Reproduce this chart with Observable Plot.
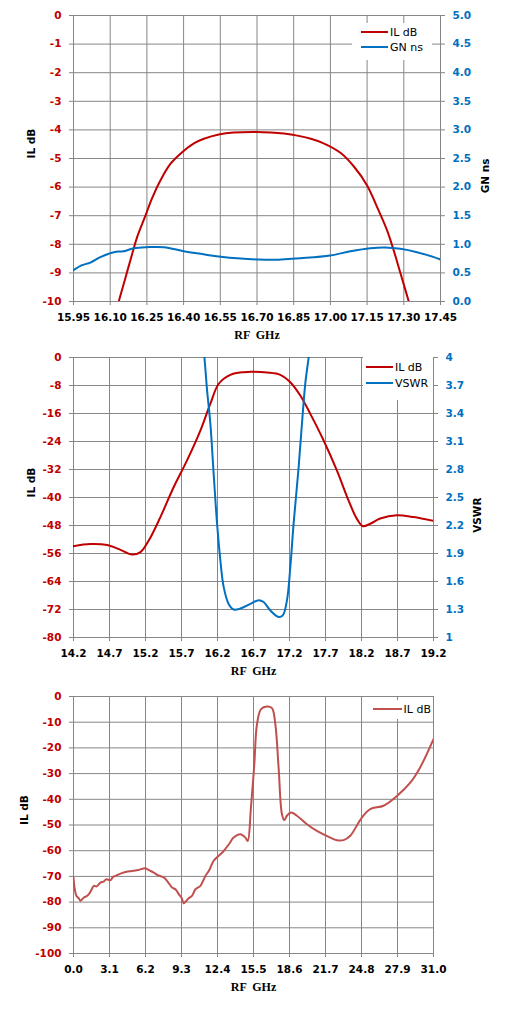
<!DOCTYPE html>
<html><head><meta charset="utf-8">
<script src="https://cdn.jsdelivr.net/npm/d3@7"></script>
<script src="https://cdn.jsdelivr.net/npm/@observablehq/plot@0.6"></script>
<style>
body{margin:0;background:#fff;}
.wrap{position:relative;width:509px;}
.wrap svg{display:block;}
.leg{position:absolute;background:#fff;font-family:"DejaVu Sans",sans-serif;font-size:11px;color:#000;}
.row{display:flex;align-items:center;white-space:nowrap;}
.sw{display:inline-block;height:2.5px;margin-right:2px;}
</style>
</head><body><div id="c"></div>
<script>
// ---------- Chart 1 data ----------
const c1XTicks = [15.95, 16.10, 16.25, 16.40, 16.55, 16.70, 16.85, 17.00, 17.15, 17.30, 17.45];
const c1YTicks = [0, -1, -2, -3, -4, -5, -6, -7, -8, -9, -10];
const c1ILFreq = [16.12, 16.135, 16.163, 16.19, 16.21, 16.244, 16.27, 16.305, 16.346, 16.394, 16.442, 16.483, 16.544, 16.605, 16.701, 16.755, 16.81, 16.865, 16.92, 16.97, 17.041, 17.096, 17.15, 17.191, 17.232, 17.259, 17.287, 17.321, 17.335];
const c1IL = [-10.5, -10.0, -9.15, -8.33, -7.75, -7.0, -6.41, -5.77, -5.19, -4.78, -4.47, -4.31, -4.16, -4.09, -4.07, -4.09, -4.13, -4.20, -4.31, -4.46, -4.80, -5.28, -5.94, -6.70, -7.52, -8.22, -9.03, -10.02, -10.45];
const c1GNFreq = [15.95, 15.985, 16.019, 16.06, 16.115, 16.156, 16.197, 16.251, 16.319, 16.401, 16.469, 16.544, 16.633, 16.701, 16.769, 16.878, 17.0, 17.082, 17.164, 17.225, 17.286, 17.354, 17.423, 17.45];
const c1GN = [0.548, 0.635, 0.68, 0.775, 0.862, 0.88, 0.932, 0.95, 0.95, 0.88, 0.834, 0.787, 0.75, 0.735, 0.73, 0.757, 0.804, 0.879, 0.932, 0.944, 0.921, 0.862, 0.775, 0.734];

// ---------- Chart 2 data ----------
const c2XTicks = [14.2, 14.7, 15.2, 15.7, 16.2, 16.7, 17.2, 17.7, 18.2, 18.7, 19.2];
const c2YTicks = [0, -8, -16, -24, -32, -40, -48, -56, -64, -72, -80];
const c2ILFreq = [14.2, 14.436, 14.667, 14.852, 15.014, 15.13, 15.245, 15.407, 15.592, 15.777, 15.962, 16.101, 16.217, 16.379, 16.564, 16.702, 16.887, 17.072, 17.211, 17.35, 17.489, 17.674, 17.859, 18.021, 18.136, 18.219, 18.321, 18.46, 18.691, 18.923, 19.2];
const c2IL = [-53.9, -53.3, -53.6, -54.95, -56.3, -55.6, -52.3, -45.6, -37.0, -29.4, -20.9, -13.2, -7.5, -4.95, -4.19, -4.1, -4.3, -4.95, -7.05, -10.86, -16.1, -23.7, -32.3, -40.9, -46.1, -48.2, -47.5, -46.0, -45.05, -45.6, -46.7];
const c2VSWRFreq = [16.0, 16.018, 16.055, 16.101, 16.147, 16.194, 16.24, 16.286, 16.355, 16.425, 16.517, 16.656, 16.772, 16.841, 16.934, 17.049, 17.109, 17.165, 17.211, 17.257, 17.327, 17.373, 17.419, 17.466, 17.48];
const c2VSWR = [4.1, 4.0, 3.65, 3.29, 2.75, 2.22, 1.825, 1.54, 1.36, 1.30, 1.31, 1.36, 1.40, 1.38, 1.29, 1.22, 1.24, 1.40, 1.75, 2.22, 2.825, 3.29, 3.72, 4.0, 4.1];

// ---------- Chart 3 data ----------
const c3XTicks = [0.0, 3.1, 6.2, 9.3, 12.4, 15.5, 18.6, 21.7, 24.8, 27.9, 31.0];
const c3YTicks = [0, -10, -20, -30, -40, -50, -60, -70, -80, -90, -100];
const c3Freq = [0, 0.086, 0.258, 0.45, 0.6, 0.889, 1.1, 1.32, 1.55, 1.75, 2.0, 2.32, 2.6, 2.84, 3.18, 3.4, 3.61, 4.0, 4.33, 4.8, 5.19, 5.6, 6.19, 6.5, 6.91, 7.3, 7.77, 8.1, 8.49, 8.8, 9.06, 9.3, 9.49, 9.7, 9.92, 10.2, 10.50, 10.93, 11.36, 11.7, 12.07, 12.5, 12.93, 13.4, 13.79, 14.37, 14.80, 15.00, 15.28, 15.57, 15.80, 16.15, 16.66, 17.09, 17.38, 17.66, 17.95, 18.15, 18.38, 18.73, 19.24, 20.10, 20.96, 22.11, 22.68, 23.26, 23.83, 24.83, 25.55, 26.70, 27.85, 29.0, 29.85, 31.0];
const c3IL = [-70.4, -74.3, -77.6, -78.5, -79.5, -78.2, -77.8, -76.9, -75.2, -73.7, -73.9, -72.4, -72.0, -71.1, -71.5, -70.2, -69.8, -69.0, -68.5, -68.0, -67.8, -67.5, -66.8, -67.6, -68.5, -69.6, -70.4, -72.0, -74.3, -75.1, -76.9, -78.3, -80.5, -79.6, -78.5, -77.6, -75.0, -73.7, -69.8, -67.5, -63.9, -62.0, -60.1, -57.4, -54.9, -53.6, -54.9, -56.2, -43.2, -26.3, -10.8, -4.93, -3.89, -4.54, -10.8, -27.6, -45.8, -48.1, -46.4, -45.1, -46.4, -49.7, -52.3, -54.9, -55.9, -55.9, -54.2, -47.1, -43.8, -42.5, -38.7, -33.5, -27.6, -16.6];

// ---------- colours ----------
const RED = "#C00000", BLUE = "#0070C0", RED3 = "#C0504D", GRID = "#868686";

function makeChart(o) {
  const marks = [
    Plot.gridX(o.xTicks, {stroke: GRID, strokeOpacity: 1}),
    Plot.gridY(o.yTicks, {stroke: GRID, strokeOpacity: 1}),
    Plot.axisX(o.xTicks, {anchor: "bottom", tickSize: 4, tickPadding: 8, stroke: GRID, fill: "#000",
      fontWeight: "bold", fontSize: 10.5, tickFormat: o.xFmt, label: null}),
    Plot.axisY(o.yTicks, {anchor: "left", tickSize: 4, tickPadding: 8, stroke: GRID, fill: RED,
      fontWeight: "bold", fontSize: 10.5, tickFormat: o.yFmt, label: null})
  ];
  if (o.rightFmt) {
    marks.push(Plot.axisY(o.yTicks, {anchor: "right", tickSize: 4, tickPadding: 8, stroke: GRID, fill: BLUE,
      fontWeight: "bold", fontSize: 10.5, tickFormat: o.rightFmt, label: null}));
  }
  for (const s of o.series) {
    marks.push(Plot.line(s.data, {x: "f", y: "v", stroke: s.color, strokeWidth: 2, curve: "catmull-rom", clip: true}));
  }
  marks.push(Plot.text([o.yLabel], {frameAnchor: "left", dx: o.yLabelDx, rotate: -90, fontWeight: "bold",
    fontSize: 10.5, fill: "#000"}));
  if (o.rightLabel) {
    marks.push(Plot.text([o.rightLabel], {frameAnchor: "right", dx: o.rightLabelDx, rotate: -90, fontWeight: "bold",
      fontSize: 10.5, fill: "#000"}));
  }
  marks.push(Plot.text(["RF  GHz"], {frameAnchor: "bottom", dy: 37, fontWeight: "bold", fontSize: 12,
    fontFamily: "Liberation Serif", fill: "#000"}));
  const svg = Plot.plot({
    width: 509, height: o.height,
    marginTop: o.mt, marginBottom: o.mb, marginLeft: 73, marginRight: o.mr,
    x: {domain: o.xDomain},
    y: {domain: o.yDomain},
    style: {fontFamily: "DejaVu Sans", background: "#fff", overflow: "visible"},
    marks
  });
  const wrap = document.createElement("div");
  wrap.className = "wrap";
  wrap.style.height = o.height + "px";
  wrap.appendChild(svg);
  // legend
  const L = o.legend;
  const leg = document.createElement("div");
  leg.className = "leg";
  Object.assign(leg.style, {left: L.left + "px", top: L.top + "px", width: L.width + "px", height: L.height + "px",
    paddingTop: L.padTop + "px", boxSizing: "border-box"});
  for (const it of L.items) {
    const row = document.createElement("div");
    row.className = "row";
    row.style.height = L.lineHeight + "px";
    row.style.paddingLeft = L.swLeft + "px";
    const sw = document.createElement("span");
    sw.className = "sw";
    sw.style.width = L.swWidth + "px";
    sw.style.background = it.color;
    const tx = document.createElement("span");
    tx.textContent = it.label;
    row.appendChild(sw); row.appendChild(tx);
    leg.appendChild(row);
  }
  wrap.appendChild(leg);
  return wrap;
}

const zip = (fs, vs, tf = v => v) => fs.map((f, i) => ({f, v: tf(vs[i])}));

const root = document.getElementById("c");

// Chart 1: IL dB (left, -10..0) and GN ns (right, 0..5)
root.appendChild(makeChart({
  height: 345, mt: 15, mb: 44, mr: 69,
  xDomain: [15.95, 17.45], yDomain: [-10, 0],
  xTicks: c1XTicks, yTicks: c1YTicks,
  xFmt: d => d.toFixed(2), yFmt: d => String(d),
  rightFmt: d => ((d + 10) / 2).toFixed(1),
  series: [
    {data: zip(c1ILFreq, c1IL), color: RED},
    {data: zip(c1GNFreq, c1GN, v => v * 2 - 10), color: BLUE}
  ],
  yLabel: "IL dB", yLabelDx: -42, rightLabel: "GN ns", rightLabelDx: 45,
  legend: {left: 352, top: 23, width: 80, height: 37, padTop: 1.5, lineHeight: 15, swLeft: 9, swWidth: 27,
    items: [{label: "IL dB", color: RED}, {label: "GN ns", color: BLUE}]}
}));

// Chart 2: IL dB (left, -80..0) and VSWR (right, 1..4)
root.appendChild(makeChart({
  height: 335, mt: 12, mb: 43, mr: 76,
  xDomain: [14.2, 19.2], yDomain: [-80, 0],
  xTicks: c2XTicks, yTicks: c2YTicks,
  xFmt: d => d.toFixed(1), yFmt: d => String(d),
  rightFmt: d => String(Number((1 + (d + 80) * 3 / 80).toFixed(1))),
  series: [
    {data: zip(c2ILFreq, c2IL), color: RED},
    {data: zip(c2VSWRFreq, c2VSWR, v => (v - 1) * 80 / 3 - 80), color: BLUE}
  ],
  yLabel: "IL dB", yLabelDx: -42, rightLabel: "VSWR", rightLabelDx: 44,
  legend: {left: 363, top: 12, width: 70, height: 43, padTop: 2, lineHeight: 16, swLeft: 3, swWidth: 27,
    items: [{label: "IL dB", color: RED}, {label: "VSWR", color: BLUE}]}
}));

// Chart 3: IL dB wideband
root.appendChild(makeChart({
  height: 335, mt: 16, mb: 62, mr: 76,
  xDomain: [0, 31], yDomain: [-100, 0],
  xTicks: c3XTicks, yTicks: c3YTicks,
  xFmt: d => d.toFixed(1), yFmt: d => String(d),
  series: [{data: zip(c3Freq, c3IL), color: RED3}],
  yLabel: "IL dB", yLabelDx: -49,
  legend: {left: 365, top: 20, width: 66, height: 19, padTop: 1.5, lineHeight: 15, swLeft: 8, swWidth: 29,
    items: [{label: "IL dB", color: RED3}]}
}));
</script>
</body></html>
